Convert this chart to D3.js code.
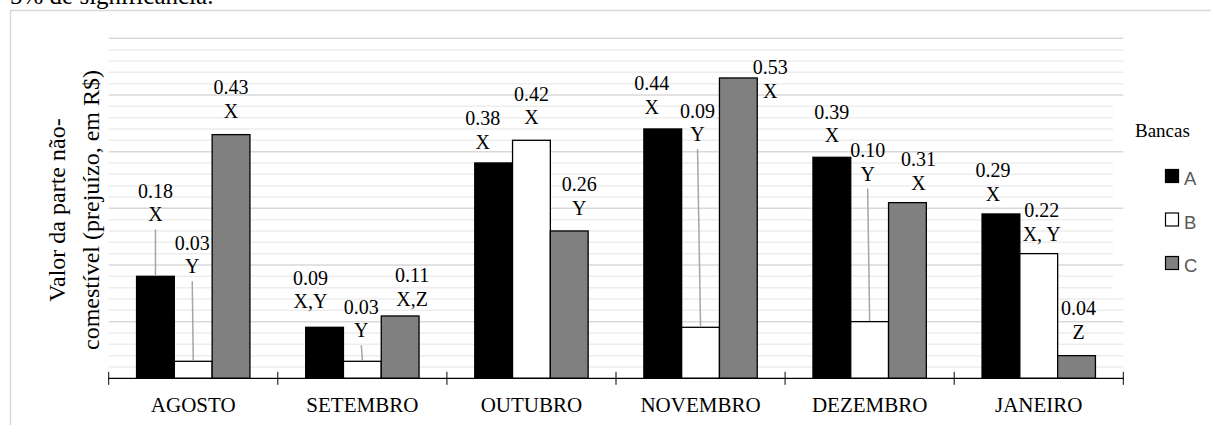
<!DOCTYPE html>
<html>
<head>
<meta charset="utf-8">
<script src="https://cdn.jsdelivr.net/npm/d3@7"></script>
<style>
  html, body { margin: 0; padding: 0; background: #fff; overflow: hidden; }
  svg { display: block; }
</style>
</head>
<body>
<svg id="chart" width="1211" height="425"></svg>
<script>
// ---- data ----
const categories = ["AGOSTO", "SETEMBRO", "OUTUBRO", "NOVEMBRO", "DEZEMBRO", "JANEIRO"];
const seriesNames = ["A", "B", "C"];
const valuesA = [0.18, 0.09, 0.38, 0.44, 0.39, 0.29];
const valuesB = [0.03, 0.03, 0.42, 0.09, 0.10, 0.22];
const valuesC = [0.43, 0.11, 0.26, 0.53, 0.31, 0.04];
const lettersA = ["X", "X,Y", "X", "X", "X", "X"];
const lettersB = ["Y", "Y", "X", "Y", "Y", "X, Y"];
const lettersC = ["X", "X,Z", "Y", "X", "X", "Z"];
const yTitleLines = ["Valor da parte não-", "comestível (prejuízo, em R$)"];
const legendTitle = "Bancas";
const captionText = "5% de significância.";

// ---- layout (label nudges in px: [dx from bar centre, letter baseline relative to bar top]) ----
const nudgeA = [[0, -55], [-14, -19], [-11, -14], [-11, -15], [0, -15], [-8, -13]];
const nudgeB = [[-1, -88], [-1, -24], [0, -16], [-3, -186], [-2, -141], [3, -13]];
const nudgeC = [[0, -17], [12, -10], [10, -16], [32, 20], [11, -13], [2, -17]];

const seriesValues = [valuesA, valuesB, valuesC];
const seriesLetters = [lettersA, lettersB, lettersC];
const seriesNudges = [nudgeA, nudgeB, nudgeC];
const fills = ["#000000", "#ffffff", "#808080"];

const serif = "'Liberation Serif', 'Times New Roman', serif";
const sans = "'Liberation Sans', Arial, sans-serif";

const svg = d3.select("#chart");

// outer frame
svg.append("rect").attr("x", 10.5).attr("y", 10.5).attr("width", 1300).attr("height", 500)
  .attr("fill", "#fff").attr("stroke", "#d9d9d9").attr("stroke-width", 1.5);

// caption (cut at top, as in the source)
svg.append("text").attr("x", 10).attr("y", 4).text(captionText)
  .attr("font-family", serif).attr("font-size", 25).attr("fill", "#000");

const x0 = 108.7, x1 = 1123.3;
const x = d3.scaleBand().domain(categories).range([x0, x1]).paddingInner(0).paddingOuter(0);
const xs = d3.scaleBand().domain(seriesNames).range([0, x.bandwidth()]).paddingInner(0).paddingOuter(0.737);
const y = d3.scaleLinear().domain([0, 0.6]).range([378.3, 38.3]);

// minor gridlines
const minor = d3.range(0, 0.6001, 0.02).filter(v => Math.abs(Math.round(v * 10) - v * 10) > 1e-6);
const major = d3.range(0.1, 0.6001, 0.1);
svg.append("g").selectAll("line").data(minor).join("line")
  .attr("x1", x0).attr("x2", x1).attr("y1", d => y(d)).attr("y2", d => y(d))
  .attr("stroke", "#ededed").attr("stroke-width", 1.5);

// legend background
svg.append("rect").attr("x", 1113).attr("y", 100).attr("width", 110).attr("height", 192).attr("fill", "#fff");

svg.append("g").selectAll("line").data(major).join("line")
  .attr("x1", x0).attr("x2", x1).attr("y1", d => y(d)).attr("y2", d => y(d))
  .attr("stroke", "#d9d9d9").attr("stroke-width", 1.5);

// bars
const flat = [];
categories.forEach((c, i) => {
  seriesNames.forEach((s, j) => {
    flat.push({ cat: c, s, j, v: seriesValues[j][i], letter: seriesLetters[j][i], nudge: seriesNudges[j][i] });
  });
});

svg.append("g").selectAll("rect").data(flat).join("rect")
  .attr("x", d => x(d.cat) + xs(d.s))
  .attr("width", xs.bandwidth())
  .attr("y", d => y(d.v))
  .attr("height", d => y(0) - y(d.v))
  .attr("fill", d => fills[d.j])
  .attr("stroke", "#000").attr("stroke-width", 1.3);

// axis line + ticks at band edges
const axisY = y(0);
svg.append("line").attr("x1", x0).attr("x2", x1).attr("y1", axisY).attr("y2", axisY)
  .attr("stroke", "#000").attr("stroke-width", 1.2);
const edges = categories.map(c => x(c)).concat([x1]);
svg.append("g").selectAll("line").data(edges).join("line")
  .attr("x1", d => d).attr("x2", d => d).attr("y1", axisY - 6.5).attr("y2", axisY + 6.5)
  .attr("stroke", "#000").attr("stroke-width", 1);

// category labels via axis
const xAxis = svg.append("g").attr("transform", `translate(0,${axisY})`)
  .call(d3.axisBottom(x).tickSize(0).tickPadding(0));
xAxis.select(".domain").remove();
xAxis.selectAll("text").attr("font-family", serif).attr("font-size", 21).attr("fill", "#000")
  .attr("dy", null).attr("y", 33.5);

// data labels + leader lines
const lab = svg.append("g");
flat.forEach(d => {
  const cx = x(d.cat) + xs(d.s) + xs.bandwidth() / 2;
  const top = y(d.v);
  const lx = cx + d.nudge[0];
  const letterBase = top + d.nudge[1];
  const valueBase = letterBase - 23.5;
  lab.append("text").attr("x", lx).attr("y", valueBase).attr("text-anchor", "middle")
    .attr("font-family", serif).attr("font-size", 20).attr("fill", "#000")
    .text(d3.format(".2f")(d.v));
  lab.append("text").attr("x", lx).attr("y", letterBase).attr("text-anchor", "middle")
    .attr("font-family", serif).attr("font-size", 20).attr("fill", "#000")
    .text(d.letter);
  if (top - (letterBase + 8) > 14) {
    lab.append("line").attr("x1", lx).attr("y1", letterBase + 8).attr("x2", cx).attr("y2", top - 0.7)
      .attr("stroke", "#a6a6a6").attr("stroke-width", 1.5);
  }
});

// y axis title
const yt = svg.append("text").attr("transform", `translate(65,210) rotate(-90)`)
  .attr("text-anchor", "middle").attr("font-family", serif).attr("font-size", 24).attr("fill", "#000");
yTitleLines.forEach((t, i) => {
  yt.append("tspan").attr("x", 0).attr("y", i * 34).text(t);
});

// legend
svg.append("text").attr("x", 1135).attr("y", 137.3).text(legendTitle)
  .attr("font-family", serif).attr("font-size", 19).attr("fill", "#000");
const lg = svg.append("g");
seriesNames.forEach((s, j) => {
  const cy = 176.5 + j * 43.5;
  lg.append("rect").attr("x", 1165.5).attr("y", cy - 7).attr("width", 13).attr("height", 13)
    .attr("fill", fills[j]).attr("stroke", "#000").attr("stroke-width", 1.2);
  lg.append("text").attr("x", 1184).attr("y", cy + 8.5).text(s)
    .attr("font-family", sans).attr("font-size", 18.5).attr("fill", "#595959");
});
</script>
</body>
</html>
